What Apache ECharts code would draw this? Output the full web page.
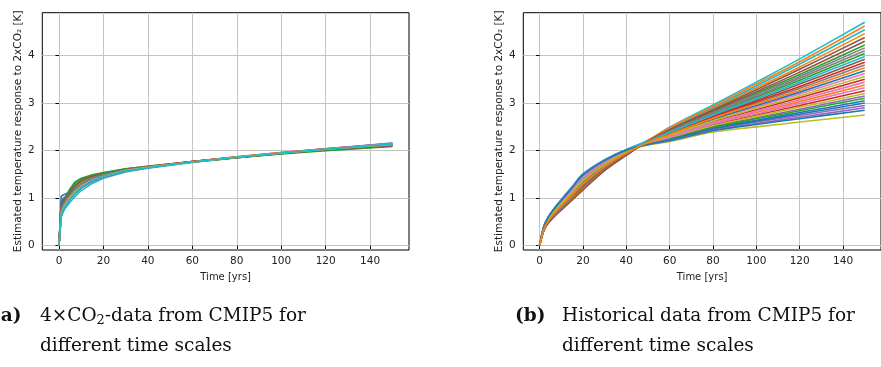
<!DOCTYPE html>
<html>
<head>
<meta charset="utf-8">
<script src="https://cdn.jsdelivr.net/npm/echarts@6/dist/echarts.min.js"></script>
<style>
  html, body { margin: 0; padding: 0; background: #fff; }
  #chart { width: 881px; height: 367px; }
</style>
</head>
<body>
<div id="chart"></div>
<script>
// Time axes (years) for the two ensembles
const timesAbrupt = [0, 1, 2, 3, 5, 7, 10, 15, 20, 30, 40, 60, 80, 100, 120, 150];
const timesHistorical = [0, 2, 4, 7, 10, 15, 20, 30, 40, 50, 60, 80, 100, 120, 150];

// (a) responses estimated from the 4xCO2 runs, scaled to 2xCO2 [K]
const abruptRuns = [
  [0, 1.04, 1.07, 1.09, 1.12, 1.20, 1.32, 1.43, 1.50, 1.59, 1.65, 1.76, 1.86, 1.95, 2.03, 2.14],
  [0, 0.75, 0.86, 0.93, 1.03, 1.12, 1.24, 1.37, 1.46, 1.57, 1.64, 1.76, 1.86, 1.95, 2.03, 2.13],
  [0, 0.85, 0.95, 1.04, 1.20, 1.33, 1.42, 1.49, 1.54, 1.62, 1.67, 1.77, 1.86, 1.94, 2.01, 2.10],
  [0, 0.70, 0.82, 0.90, 1.01, 1.10, 1.22, 1.36, 1.45, 1.57, 1.65, 1.77, 1.87, 1.96, 2.04, 2.15],
  [0, 0.95, 1.00, 1.04, 1.09, 1.15, 1.26, 1.39, 1.47, 1.58, 1.65, 1.76, 1.86, 1.95, 2.03, 2.13],
  [0, 0.80, 0.90, 0.99, 1.12, 1.24, 1.36, 1.46, 1.52, 1.61, 1.67, 1.77, 1.86, 1.94, 2.02, 2.11],
  [0, 0.65, 0.78, 0.87, 0.99, 1.09, 1.22, 1.36, 1.45, 1.57, 1.64, 1.76, 1.86, 1.95, 2.04, 2.16],
  [0, 0.72, 0.84, 0.92, 1.05, 1.16, 1.29, 1.41, 1.48, 1.59, 1.66, 1.77, 1.86, 1.95, 2.03, 2.12],
  [0, 0.78, 0.88, 0.96, 1.09, 1.20, 1.32, 1.43, 1.50, 1.60, 1.66, 1.76, 1.85, 1.94, 2.02, 2.11],
  [0, 0.60, 0.72, 0.80, 0.92, 1.02, 1.16, 1.31, 1.42, 1.55, 1.63, 1.75, 1.85, 1.94, 2.03, 2.16],
  [0, 0.90, 0.97, 1.02, 1.10, 1.19, 1.31, 1.42, 1.49, 1.59, 1.65, 1.76, 1.86, 1.95, 2.03, 2.13],
  [0, 0.68, 0.80, 0.88, 1.00, 1.11, 1.25, 1.38, 1.47, 1.58, 1.65, 1.77, 1.87, 1.96, 2.04, 2.14],
  [0, 0.82, 0.93, 1.02, 1.17, 1.30, 1.40, 1.48, 1.53, 1.61, 1.66, 1.76, 1.85, 1.93, 2.00, 2.09],
  [0, 0.74, 0.85, 0.93, 1.05, 1.15, 1.28, 1.40, 1.48, 1.59, 1.66, 1.77, 1.86, 1.95, 2.03, 2.12],
  [0, 0.62, 0.75, 0.84, 0.97, 1.08, 1.21, 1.35, 1.44, 1.56, 1.64, 1.76, 1.86, 1.95, 2.04, 2.15],
  [0, 0.83, 0.92, 1.00, 1.14, 1.26, 1.37, 1.46, 1.51, 1.60, 1.66, 1.76, 1.85, 1.94, 2.02, 2.10],
  [0, 0.70, 0.83, 0.91, 1.03, 1.13, 1.26, 1.39, 1.47, 1.58, 1.65, 1.76, 1.86, 1.95, 2.03, 2.14],
  [0, 0.76, 0.87, 0.95, 1.07, 1.18, 1.30, 1.42, 1.49, 1.59, 1.65, 1.76, 1.86, 1.95, 2.03, 2.12],
  [0, 0.66, 0.79, 0.88, 1.01, 1.12, 1.25, 1.38, 1.46, 1.58, 1.65, 1.76, 1.86, 1.95, 2.03, 2.13],
  [0, 0.64, 0.76, 0.85, 0.98, 1.09, 1.23, 1.37, 1.46, 1.57, 1.64, 1.76, 1.86, 1.95, 2.03, 2.14]
];

// (b) responses estimated from the historical runs [K]
const historicalRuns = [
  [0, 0.38, 0.57, 0.75, 0.91, 1.16, 1.42, 1.75, 1.99, 2.14, 2.24, 2.48, 2.64, 2.80, 3.05],
  [0, 0.33, 0.50, 0.66, 0.79, 1.02, 1.24, 1.62, 1.92, 2.21, 2.46, 2.89, 3.32, 3.76, 4.46],
  [0, 0.36, 0.54, 0.71, 0.86, 1.10, 1.34, 1.69, 1.96, 2.19, 2.42, 2.82, 3.21, 3.60, 4.22],
  [0, 0.37, 0.54, 0.72, 0.87, 1.12, 1.36, 1.71, 1.97, 2.16, 2.31, 2.61, 2.86, 3.11, 3.50],
  [0, 0.40, 0.59, 0.78, 0.95, 1.21, 1.48, 1.79, 2.01, 2.13, 2.21, 2.43, 2.57, 2.70, 2.90],
  [0, 0.32, 0.48, 0.64, 0.77, 0.98, 1.20, 1.60, 1.91, 2.20, 2.43, 2.84, 3.24, 3.65, 4.30],
  [0, 0.38, 0.56, 0.74, 0.90, 1.15, 1.40, 1.73, 1.98, 2.16, 2.33, 2.64, 2.92, 3.19, 3.62],
  [0, 0.35, 0.52, 0.69, 0.83, 1.07, 1.30, 1.67, 1.95, 2.17, 2.35, 2.69, 3.00, 3.31, 3.80],
  [0, 0.39, 0.58, 0.76, 0.92, 1.18, 1.44, 1.76, 1.99, 2.12, 2.19, 2.39, 2.50, 2.60, 2.75],
  [0, 0.41, 0.60, 0.80, 0.96, 1.23, 1.50, 1.80, 2.02, 2.22, 2.49, 2.96, 3.44, 3.93, 4.70],
  [0, 0.39, 0.58, 0.77, 0.93, 1.20, 1.46, 1.77, 2.00, 2.13, 2.21, 2.42, 2.55, 2.67, 2.85],
  [0, 0.37, 0.55, 0.73, 0.88, 1.13, 1.38, 1.72, 1.97, 2.15, 2.29, 2.57, 2.80, 3.03, 3.38],
  [0, 0.34, 0.50, 0.67, 0.81, 1.03, 1.26, 1.64, 1.93, 2.18, 2.39, 2.76, 3.12, 3.48, 4.04],
  [0, 0.39, 0.58, 0.77, 0.93, 1.19, 1.45, 1.77, 2.00, 2.15, 2.27, 2.54, 2.75, 2.95, 3.26],
  [0, 0.38, 0.56, 0.74, 0.90, 1.15, 1.40, 1.73, 1.98, 2.14, 2.25, 2.51, 2.69, 2.87, 3.15],
  [0, 0.33, 0.49, 0.65, 0.78, 1.00, 1.22, 1.61, 1.92, 2.18, 2.37, 2.73, 3.06, 3.40, 3.92],
  [0, 0.38, 0.57, 0.75, 0.91, 1.16, 1.42, 1.75, 1.99, 2.15, 2.30, 2.59, 2.83, 3.07, 3.44],
  [0, 0.36, 0.53, 0.70, 0.84, 1.08, 1.32, 1.68, 1.95, 2.19, 2.40, 2.78, 3.15, 3.52, 4.10],
  [0, 0.36, 0.54, 0.72, 0.86, 1.11, 1.35, 1.70, 1.96, 2.14, 2.26, 2.52, 2.72, 2.91, 3.20],
  [0, 0.39, 0.58, 0.77, 0.93, 1.19, 1.45, 1.77, 2.00, 2.21, 2.47, 2.91, 3.36, 3.82, 4.54],
  [0, 0.36, 0.53, 0.70, 0.85, 1.09, 1.33, 1.69, 1.96, 2.17, 2.33, 2.66, 2.95, 3.23, 3.68],
  [0, 0.32, 0.48, 0.63, 0.76, 0.98, 1.19, 1.59, 1.91, 2.21, 2.48, 2.93, 3.40, 3.87, 4.62],
  [0, 0.40, 0.59, 0.78, 0.94, 1.21, 1.47, 1.78, 2.01, 2.14, 2.24, 2.49, 2.67, 2.84, 3.10],
  [0, 0.35, 0.52, 0.68, 0.83, 1.06, 1.29, 1.66, 1.94, 2.18, 2.36, 2.71, 3.03, 3.35, 3.86],
  [0, 0.41, 0.60, 0.80, 0.97, 1.24, 1.51, 1.81, 2.02, 2.13, 2.22, 2.45, 2.60, 2.74, 2.95],
  [0, 0.32, 0.47, 0.62, 0.75, 0.96, 1.17, 1.58, 1.90, 2.20, 2.44, 2.86, 3.28, 3.71, 4.38],
  [0, 0.39, 0.58, 0.76, 0.92, 1.18, 1.44, 1.76, 1.99, 2.15, 2.28, 2.56, 2.77, 2.99, 3.32],
  [0, 0.34, 0.51, 0.67, 0.81, 1.04, 1.27, 1.65, 1.94, 2.19, 2.41, 2.80, 3.18, 3.56, 4.16],
  [0, 0.37, 0.55, 0.73, 0.88, 1.12, 1.37, 1.71, 1.97, 2.16, 2.32, 2.63, 2.89, 3.15, 3.56],
  [0, 0.41, 0.60, 0.80, 0.96, 1.23, 1.50, 1.80, 2.02, 2.18, 2.38, 2.75, 3.09, 3.44, 3.98],
  [0, 0.40, 0.60, 0.79, 0.95, 1.22, 1.49, 1.79, 2.01, 2.13, 2.23, 2.46, 2.62, 2.77, 3.00],
  [0, 0.35, 0.52, 0.69, 0.84, 1.07, 1.31, 1.67, 1.95, 2.17, 2.34, 2.68, 2.98, 3.27, 3.74]
];

const xTickValues = [0, 20, 40, 60, 80, 100, 120, 140];
const yTickValues = [0, 1, 2, 3, 4];
const palette = ['#1f77b4', '#ff7f0e', '#2ca02c', '#d62728', '#9467bd',
                 '#8c564b', '#e377c2', '#7f7f7f', '#bcbd22', '#17becf'];

const yName = 'Estimated temperature response to 2xCO\u2082 [K]';
const xName = 'Time [yrs]';

// Caption lines; line1 is a list of [text, isSubscript] pieces
const captionA = {
  label: '(a)',
  line1: [['4\u00d7CO', false], ['2', true], ['-data from CMIP5 for', false]],
  line2: 'different time scales'
};
const captionB = {
  label: '(b)',
  line1: [['Historical data from CMIP5 for', false]],
  line2: 'different time scales'
};

const sans = 'DejaVu Sans';
const capSize = 18.5;
const subSize = 13;
const capFont = capSize + 'px "DejaVu Serif"';
const subFont = subSize + 'px "DejaVu Serif"';
const capColor = '#111';

function makeX(gridIndex) {
  return {
    type: 'value', gridIndex, min: -7.5, max: 157.5,
    name: xName, nameLocation: 'middle', nameGap: 22,
    nameTextStyle: { fontFamily: sans, fontSize: 10, color: '#222' },
    axisLine: { show: false },
    axisTick: { show: true, inside: false, length: 3.5, customValues: xTickValues,
                lineStyle: { color: '#000', width: 1 } },
    axisLabel: { customValues: xTickValues, margin: 6, fontFamily: sans, fontSize: 10.5, color: '#222' },
    splitLine: { show: true, lineStyle: { color: '#c4c4c4', width: 1 } }
  };
}
function makeY(gridIndex) {
  return {
    type: 'value', gridIndex, min: -0.09, max: 4.9,
    name: yName, nameLocation: 'middle', nameRotate: 90, nameGap: 19,
    nameTextStyle: { fontFamily: sans, fontSize: 10.5, color: '#222' },
    axisLine: { show: false },
    axisTick: { show: true, inside: false, length: 3.5, customValues: yTickValues,
                lineStyle: { color: '#000', width: 1 } },
    axisLabel: { customValues: yTickValues, margin: 7.5, fontFamily: sans, fontSize: 10.5, color: '#222' },
    splitLine: { show: true, lineStyle: { color: '#c4c4c4', width: 1 } }
  };
}

function runSeries(runs, times, axisIndex, smooth) {
  return runs.map((vals, i) => ({
    type: 'line', xAxisIndex: axisIndex, yAxisIndex: axisIndex,
    data: vals.map((v, k) => [times[k], v]),
    showSymbol: false, symbol: 'none', smooth: smooth,
    lineStyle: { width: 1.6, color: palette[i % palette.length] },
    itemStyle: { color: palette[i % palette.length] },
    silent: true, animation: false
  }));
}

const measureCtx = document.createElement('canvas').getContext('2d');
function textWidth(str, font) {
  measureCtx.font = font;
  return measureCtx.measureText(str).width;
}

function captionElements(c, labelX, x0, top1, top2) {
  const els = [{ type: 'text', x: labelX, y: top1,
    style: { text: c.label, font: 'bold ' + capFont, fill: capColor, verticalAlign: 'top' } }];
  let x = x0;
  c.line1.forEach(p => {
    const font = p[1] ? subFont : capFont;
    els.push({ type: 'text', x: x, y: top1 + (p[1] ? 8 : 0),
      style: { text: p[0], font: font, fill: capColor, verticalAlign: 'top' } });
    x += textWidth(p[0], font);
  });
  els.push({ type: 'text', x: x0, y: top2,
    style: { text: c.line2, font: capFont, fill: capColor, verticalAlign: 'top' } });
  return els;
}

const frame = { show: true, borderColor: '#000', borderWidth: 1, backgroundColor: 'transparent' };

const chart = echarts.init(document.getElementById('chart'), null, { renderer: 'canvas' });
chart.setOption({
  animation: false,
  backgroundColor: '#fff',
  grid: [
    Object.assign({ left: 42.3, top: 12.7, width: 366.7, height: 237.3 }, frame),
    Object.assign({ left: 523.3, top: 12.7, width: 366.1, height: 237.3 }, frame)
  ],
  xAxis: [makeX(0), makeX(1)],
  yAxis: [makeY(0), makeY(1)],
  series: runSeries(abruptRuns, timesAbrupt, 0, false)
    .concat(runSeries(historicalRuns, timesHistorical, 1, 0.35)),
  graphic: captionElements(captionA, -8, 40, 306.5, 337)
    .concat(captionElements(captionB, 515, 562, 306.5, 337))
});
</script>
</body>
</html>
